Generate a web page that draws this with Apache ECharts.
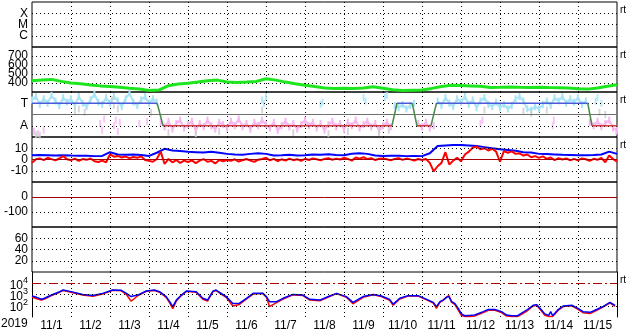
<!DOCTYPE html>
<html><head><meta charset="utf-8">
<script src="https://cdn.jsdelivr.net/npm/echarts@6/dist/echarts.min.js"></script>
<style>html,body{margin:0;padding:0;background:#fff}#c{width:633px;height:334px}</style>
</head><body><div id="c"></div>
<script>
// ---------- data ----------
const dayLabels = ['11/1','11/2','11/3','11/4','11/5','11/6','11/7','11/8','11/9','11/10','11/11','11/12','11/13','11/14','11/15'];
const yearLabel = '2019';
const flareLabels = {'-4':'X','-5':'M','-6':'C'};
const sectorLabels = {3:'T',1:'A'};
const panelTags = ['rt','rt','rt','rt',null,null,'rt'];

// solar wind speed, every 0.25 day from 11/1 00UT
const speedStep = 0.25;
const speedVals = [425,432,440,418,400,392,378,368,360,352,
  342,333,318,322,370,388,398,410,425,432,
  412,405,410,418,448,432,410,392,375,360,
  345,340,343,340,345,358,342,325,318,320,
  322,340,362,376,372,368,364,350,352,356,
  352,350,353,350,348,344,336,332,345,365,380];

// sector polarity (T=3, A=1), [day, level]
const polarity = [[0,3],[3.21,3],[3.36,1],[9.23,1],[9.36,3],[9.75,3],[9.87,1],[10.23,1],[10.37,3],[14.25,3],[14.36,1],[15,1]];

// IMF angle band, every 0.1 day
const phiStep = 0.1;
const phiVals = [3.3,3.6,2.9,3.4,3.0,3.7,3.2,2.8,3.5,3.1,
  3.4,2.8,3.6,3.0,2.7,3.3,3.8,3.1,2.9,3.5,
  3.0,3.6,3.2,2.7,3.4,3.9,3.1,2.8,3.3,3.6,
  3.0,3.4,3.1,1.3,0.9,1.4,0.7,1.2,1.5,0.8,
  1.1,1.4,0.6,1.2,0.9,1.5,1.0,0.7,1.3,1.1,
  0.8,1.4,1.0,1.6,0.9,1.2,0.7,1.3,1.0,1.5,
  1.1,0.8,1.3,0.6,1.0,1.4,0.9,1.2,0.7,1.1,
  1.5,1.0,1.3,0.8,1.2,0.6,1.1,1.4,0.9,1.2,
  0.7,1.3,1.0,1.5,0.8,1.1,1.4,0.9,1.2,0.6,
  1.0,1.3,0.9,2.8,2.6,2.9,2.5,2.8,3.0,1.2,
  0.9,1.3,0.8,1.0,3.2,2.8,3.5,3.0,2.7,3.4,
  3.1,3.6,2.9,3.3,2.6,3.2,3.5,2.9,2.7,3.1,
  2.6,2.9,2.5,2.8,3.4,3.6,3.2,2.5,2.4,2.7,
  2.5,2.9,3.2,2.8,3.5,3.2,3.6,3.0,3.4,3.1,
  3.5,2.9,3.2,1.3,1.0,1.4,0.9,1.2,1.5,0.8,0.6];
const phiPinkOut = [[0.05,0.5],[0.15,0.3],[0.3,0.6],[1.75,1.2],[1.8,0.6],[1.85,1.6],[2.1,1.0],[2.15,1.5],[2.2,0.5],[2.25,1.3],[2.75,1.2],[2.95,1.4],[11.5,1.2],[11.55,1.5],[13.35,1.0],[13.38,1.5],[14.98,0.5]];
const phiCyanOut = [[5.9,3.3],[5.95,3.0],[6.0,3.6],[7.4,2.9],[7.45,3.1],[8.5,3.5],[8.55,3.2],[9.05,3.5],[9.1,3.7],[14.45,3.2],[14.5,3.5],[14.6,3.0]];
const phiGrayOut = [[0.1,0.2],[0.2,0.15],[1.1,2.3],[1.2,2.5],[1.35,2.2],[2.05,3.3],[2.1,2.8],[2.2,2.5],[3.05,2.2],[3.5,0.4],[4.2,0.3],[4.8,0.5],[5.9,2.4],[6.7,0.4],[7.6,0.3],[8.1,0.5],[8.9,0.4],[9.15,0.6],[11.6,2.4],[12.6,2.3],[12.8,2.1],[13.2,2.4],[14.55,2.2],[14.7,2.0]];

// IMF Bt (every 0.2 day) and Bz (every 0.1 day), nT
const btStep = 0.2;
const btVals = [3.8,3.9,3.8,3.6,3.8,3.5,3.3,3.4,3.0,3.2,
  6.5,4.5,4.2,4.4,4.0,3.2,6.0,9.5,8.0,7.5,
  6.8,6.5,6.2,6.8,6.0,5.0,4.5,4.2,5.0,5.5,
  5.0,3.5,3.8,4.2,3.6,3.8,4.5,4.2,4.6,4.0,
  3.8,5.2,5.5,5.0,3.6,3.2,3.3,3.3,3.0,3.2,
  3.0,5.5,12.0,12.5,12.8,12.8,12.5,12.0,11.0,10.0,
  9.2,8.5,7.8,6.5,6.2,5.0,4.8,4.5,4.2,4.0,
  3.8,3.8,3.9,4.5,7.0,5.0];
const bzStep = 0.1;
const bzVals = [-3.0,0.2,1.0,-0.5,1.5,0.3,-0.8,0.9,3.0,0.2,
  -0.6,0.8,-1.2,0.4,-0.3,0.9,-1.5,-2.2,-1.0,-2.5,
  4.5,2.5,3.2,1.8,2.6,1.2,2.2,1.5,2.8,-0.5,
  -1.2,-2.0,0.5,7.0,-4.0,0.5,-2.5,-0.5,-3.0,-1.0,
  -2.2,-0.8,-3.2,-1.0,0.3,-2.0,-1.2,-3.5,-0.5,-1.5,
  -0.5,-1.2,0.2,-1.8,-0.6,0.4,-1.0,-2.0,-0.3,0.5,
  1.5,-0.8,0.5,-1.5,0.2,-1.0,0.8,-0.6,0.3,-1.2,
  0.6,-0.4,1.0,0.2,-0.8,0.5,1.2,-0.2,0.8,0.0,
  1.5,0.5,-1.0,1.8,0.8,2.0,0.4,1.2,-0.5,0.6,
  1.0,0.2,-0.8,0.5,1.2,-0.3,0.8,0.1,-1.0,0.4,
  -0.5,0.5,-3.0,-10.5,-6.0,-3.0,6.5,-4.5,-1.0,1.5,
  -1.5,4.5,7.0,10.5,11.5,9.0,10.0,8.0,9.5,7.0,
  -2.0,7.5,6.0,7.2,5.0,5.5,3.5,4.5,2.0,3.0,
  1.5,2.8,0.5,1.8,-0.5,1.2,0.0,1.0,-0.8,0.5,
  -0.8,1.0,0.2,-1.2,0.6,-0.3,1.5,-2.5,3.5,0.5,-2.0];

// electron flux, [day, flux]
const fluxBlue = [[0,740],[0.12,560],[0.24,380],[0.32,460],[0.5,900],[0.71,1780],[0.8,2500],[1.0,1800],[1.3,1020],[1.56,830],[1.81,1260],[2.07,2500],[2.29,2340],[2.42,1260],[2.54,650],[2.71,890],[2.93,2040],[3.14,2500],[3.27,1780],[3.44,650],[3.53,230],[3.61,83],[3.7,320],[3.83,890],[3.96,2040],[4.21,1780],[4.38,460],[4.5,320],[4.64,2000],[4.72,2500],[4.85,1260],[4.98,650],[5.15,160],[5.32,170],[5.5,460],[5.67,1260],[5.92,1260],[6.01,650],[6.09,230],[6.27,230],[6.44,460],[6.69,1020],[6.95,890],[7.12,370],[7.38,320],[7.63,740],[7.81,1260],[8.06,650],[8.23,200],[8.49,650],[8.75,1020],[8.96,740],[9.17,370],[9.26,140],[9.43,460],[9.64,790],[9.9,790],[10.12,370],[10.29,200],[10.37,83],[10.46,230],[10.54,320],[10.63,560],[10.69,650],[10.76,230],[10.84,160],[10.93,59],[11.01,19],[11.1,13],[11.25,14],[11.35,15],[11.57,30],[11.7,46],[11.87,46],[12.04,30],[12.17,15],[12.3,13],[12.45,13],[12.68,40],[12.85,110],[12.94,126],[13.07,40],[13.15,19],[13.25,14],[13.3,30],[13.35,13],[13.4,15],[13.49,46],[13.62,95],[13.84,110],[14.0,59],[14.13,30],[14.31,26],[14.48,46],[14.65,89],[14.82,200],[14.95,110]];
const fluxRed = [[0,600],[0.12,420],[0.24,330],[0.32,400],[0.5,820],[0.71,1600],[0.8,2300],[1.0,1600],[1.3,900],[1.56,700],[1.81,1100],[2.07,2400],[2.29,2100],[2.42,1000],[2.54,260],[2.62,420],[2.71,780],[2.93,1900],[3.14,2300],[3.27,1600],[3.44,560],[3.53,180],[3.61,55],[3.7,260],[3.83,800],[3.96,1900],[4.21,1600],[4.38,380],[4.5,260],[4.64,1800],[4.72,2300],[4.85,1100],[4.98,560],[5.15,95],[5.32,130],[5.5,400],[5.67,1100],[5.92,1200],[6.01,560],[6.09,85],[6.27,190],[6.44,400],[6.69,950],[6.95,800],[7.12,320],[7.38,280],[7.63,650],[7.81,1200],[8.06,560],[8.23,150],[8.49,560],[8.75,950],[8.96,650],[9.17,300],[9.26,110],[9.43,400],[9.64,720],[9.9,720],[10.12,330],[10.29,170],[10.37,60],[10.46,200],[10.54,300],[10.63,600],[10.69,800],[10.76,200],[10.84,130],[10.93,40],[11.01,14],[11.1,11],[11.25,11],[11.35,12],[11.57,25],[11.7,40],[11.87,40],[12.04,25],[12.17,12],[12.3,11],[12.45,11],[12.68,32],[12.85,95],[12.94,110],[13.07,32],[13.15,14],[13.25,11],[13.35,11],[13.4,12],[13.49,38],[13.62,85],[13.84,100],[14.0,48],[14.13,24],[14.31,20],[14.48,40],[14.65,80],[14.82,180],[14.95,90]];

// ---------- chart ----------
const FONT = 'Liberation Sans';
const N = 7, TOP0 = 2, H = 45, LEFT = 32, RIGHT = 16;
const DOT = {color:'#000', type:[1,3], width:1};
const DARKRED = '#a80000';
const grids = [], xAxes = [], yAxes = [], series = [];
for (let i = 0; i < N; i++) {
  grids.push({left:LEFT, right:RIGHT, top:TOP0 + H*i, height:H, show:i < 6, borderColor:'#000', borderWidth:1});
  xAxes.push({type:'value', gridIndex:i, min:0, max:15, interval:1, position:i === 6 ? 'top' : 'bottom',
    axisLine:{show:false}, axisTick:{show:false}, axisLabel:{show:false},
    splitLine:{show:true, showMinLine:false, showMaxLine:false, lineStyle:DOT}});
}
xAxes.push({type:'category', gridIndex:6, data:dayLabels, position:'bottom', boundaryGap:true,
  axisLine:{show:false}, axisTick:{show:false}, splitLine:{show:false},
  axisLabel:{color:'#000', fontSize:12, fontFamily:FONT, margin:3, interval:0}});

const lab = (extra) => Object.assign({color:'#000', fontSize:12, fontFamily:FONT, margin:4}, extra);
const baseY = (i, o) => Object.assign({gridIndex:i, type:'value', axisLine:{show:false}, axisTick:{show:false},
  splitLine:{show:false}}, o);
const dotSplit = {show:true, showMinLine:false, showMaxLine:false, lineStyle:DOT};

yAxes.push(baseY(0, {min:-7, max:-3, interval:1, splitLine:dotSplit,
  axisLabel:lab({formatter:v => flareLabels[String(v)] || ''})}));
yAxes.push(baseY(1, {min:300, max:800, interval:100, splitLine:dotSplit,
  axisLabel:lab({formatter:v => (v > 300 && v < 800) ? String(v) : ''})}));
yAxes.push(baseY(2, {min:0, max:4, interval:1, axisLabel:lab({formatter:v => sectorLabels[v] || ''})}));
yAxes.push(baseY(3, {min:-20, max:20, interval:10, axisLabel:lab({formatter:v => Math.abs(v) <= 10 ? String(v) : ''})}));
yAxes.push(baseY(4, {min:-200, max:100, interval:100, axisLabel:lab({formatter:v => (v === 0 || v === -100) ? String(v) : ''})}));
yAxes.push(baseY(5, {min:0, max:80, interval:20, splitLine:dotSplit,
  axisLabel:lab({formatter:v => (v > 0 && v < 80) ? String(v) : ''})}));
yAxes.push(baseY(6, {type:'log', logBase:10, min:10, max:100000,
  axisLine:{show:true, lineStyle:{color:'#000', width:1}},
  axisLabel:lab({formatter:v => { const e = Math.round(Math.log10(v)); return (e >= 2 && e <= 4) ? '{b|10}{s|' + e + '}' : ''; },
    rich:{b:{fontSize:12, fontFamily:FONT, color:'#000', padding:[4,0,0,0]}, s:{fontSize:9, fontFamily:FONT, color:'#000', padding:[0,0,6,0]}}})}));
yAxes.push(baseY(6, {type:'log', logBase:10, min:10, max:100000, position:'right',
  axisLine:{show:true, lineStyle:{color:'#000', width:1}}, axisLabel:{show:false}}));

const hline = (y, style) => ({yAxis:y, lineStyle:style});
const mk = (lines) => ({silent:true, symbol:'none', label:{show:false}, animation:false, data:lines});

// panel 2 speed
series.push({type:'line', xAxisIndex:1, yAxisIndex:1, showSymbol:false,
  data:speedVals.map((v, i) => [i*speedStep, v]), lineStyle:{color:'#1ee61e', width:3}});

// panel 3 sector
const CYAN = '#a8e4f6', PINK = '#f6b6f2', GRAY = '#cdcdcd';
const bandStyle = (c) => ({type:'line', xAxisIndex:2, yAxisIndex:2, z:2, showSymbol:true, showAllSymbol:true,
  symbol:'rect', symbolSize:[2,7], itemStyle:{color:c}, lineStyle:{color:c, width:2}});
series.push(Object.assign(bandStyle(CYAN), {
  data:phiVals.map((v, i) => [i*phiStep, v >= 2 ? v : null]),
  markLine:mk([hline(3, DOT), hline(1, DOT), hline(2, {color:'#707070', type:'solid', width:1})])}));
series.push(Object.assign(bandStyle(PINK), {data:phiVals.map((v, i) => [i*phiStep, v < 2 ? v : null])}));
[[phiPinkOut, PINK], [phiCyanOut, CYAN], [phiGrayOut, GRAY]].forEach(([d, c]) => {
  series.push({type:'scatter', xAxisIndex:2, yAxisIndex:2, symbol:'rect', symbolSize:[2,7], z:2,
    data:d, itemStyle:{color:c}});
});
for (let k = 0; k < polarity.length - 1; k++) {
  const a = polarity[k], b = polarity[k+1];
  const col = a[1] === b[1] ? (a[1] > 2 ? '#4a5ad8' : '#d04040') : '#4a8a4a';
  series.push({type:'line', xAxisIndex:2, yAxisIndex:2, showSymbol:false, z:5, data:[a, b], lineStyle:{color:col, width:1.5}});
}

// panel 4 IMF
series.push({type:'line', xAxisIndex:3, yAxisIndex:3, showSymbol:false,
  data:btVals.map((v, i) => [i*btStep, v]), lineStyle:{color:'#0000ff', width:2},
  markLine:mk([hline(10, DOT), hline(-10, DOT), hline(0, {color:DARKRED, type:'solid', width:1})])});
series.push({type:'line', xAxisIndex:3, yAxisIndex:3, showSymbol:false,
  data:bzVals.map((v, i) => [i*bzStep, v]), lineStyle:{color:'#ff0000', width:2}});

// panel 5 (no data)
series.push({type:'line', xAxisIndex:4, yAxisIndex:4, data:[],
  markLine:mk([hline(-100, DOT), hline(0, {color:DARKRED, type:'solid', width:1})])});

// panel 7 electron flux
series.push({type:'line', xAxisIndex:6, yAxisIndex:6, showSymbol:false, data:fluxRed, lineStyle:{color:'#ff0000', width:1.5},
  markLine:mk([hline(1000, DOT), hline(100, DOT), hline(10000, {color:DARKRED, type:[9,3,2,3], width:1})])});
series.push({type:'line', xAxisIndex:6, yAxisIndex:6, showSymbol:false, data:fluxBlue, lineStyle:{color:'#0000ff', width:1.5}});

const graphics = [{type:'text', left:1, top:318, style:{text:yearLabel, fill:'#000', font:'12px ' + FONT}}];
panelTags.forEach((t, i) => {
  if (t) graphics.push({type:'text', left:620, top:TOP0 + H*i + 3, style:{text:t, fill:'#000', font:'10px ' + FONT}});
});

const chart = echarts.init(document.getElementById('c'), null, {renderer:'canvas'});
chart.setOption({animation:false, backgroundColor:'#fff', grid:grids, xAxis:xAxes, yAxis:yAxes, series:series, graphic:graphics});
</script></body></html>
